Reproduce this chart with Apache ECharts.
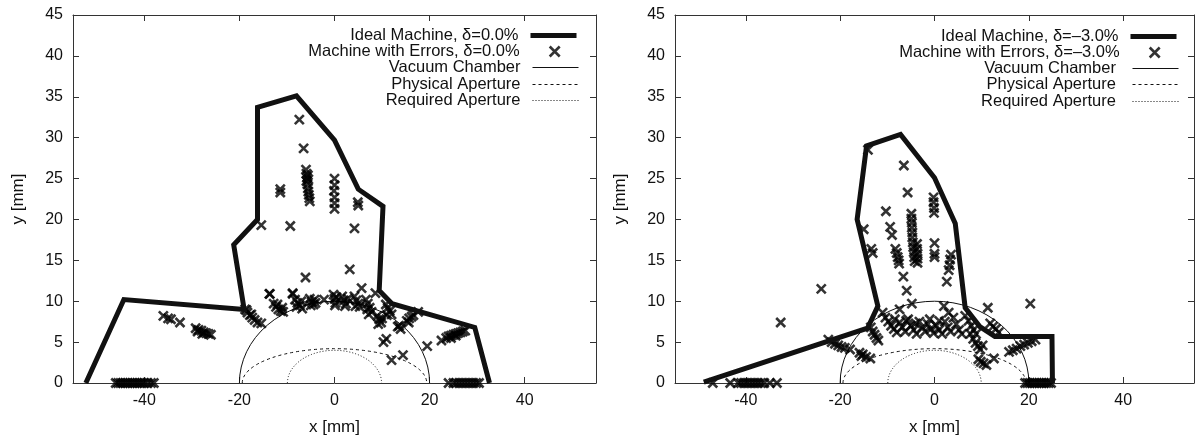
<!DOCTYPE html>
<html><head><meta charset="utf-8">
<script src="https://cdn.jsdelivr.net/npm/echarts@6/dist/echarts.min.js"></script>
<style>html,body{margin:0;padding:0;background:#fff}#c{width:1197px;height:441px}</style>
</head><body><div id="c"></div>
<script>
const xTicks = [-40, -20, 0, 20, 40];
const yRange = [0, 45];
const xRange = [-55, 55];

const leftIdeal = [[-52.3,0],[-44.3,10.2],[-19.0,9.0],[-21.2,16.9],[-16.2,20.0],[-16.2,33.7],[-8.0,35.1],[0,29.7],[5.0,23.7],[10.2,21.6],[9.4,11.3],[12.1,9.7],[29.5,6.8],[32.6,0]];
const rightIdeal = [[-48.9,0.1],[-14.2,6.7],[-12.0,9.4],[-16.4,20.0],[-14.4,29.0],[-7.2,30.4],[0,25.1],[4.4,19.5],[6.5,9.2],[9.6,6.9],[12.8,5.7],[24.9,5.7],[25.0,0]];

const leftErrors = [
[-46,0],[-45.5,0],[-45,0],[-44.5,0],[-44,0],[-43.5,0],[-43,0],[-42.5,0],[-42,0],[-41.5,0],[-41,0],[-40.5,0],[-40,0],[-39.3,0],[-38.6,0],[-38,0],
[24,0],[25,0],[25.6,0],[26.2,0],[26.8,0],[27.4,0],[28,0],[28.6,0],[29.2,0],[29.8,0],[30.4,0],
[-36,8.2],[-35,7.9],[-34.4,7.8],[-32.5,7.4],[-29.2,6.7],[-28.6,6.5],[-28,6.4],[-27.5,6.2],[-27,6.1],[-26.5,6.0],[-26,5.9],[-28.8,6.3],[-27.8,6.0],
[-18.8,9.0],[-18.3,8.6],[-17.8,8.3],[-17.3,8.0],[-16.8,7.7],[-16.2,7.4],[-15.4,7.3],[-18.5,8.9],[-17.5,8.4],
[-13.6,10.9],[-12.8,9.7],[-12.3,9.3],[-11.8,9.0],[-11.3,8.8],[-10.8,8.7],[-12.0,9.6],[-11.0,9.2],
[-8.8,10.9],[-8.3,10.2],[-7.8,9.8],[-7.3,9.5],[-6.8,9.1],[-8.0,9.3],[-7.0,10.0],
[-5.2,10.3],[-4.8,9.9],[-4.4,9.6],[-4.0,9.8],[-5.0,9.5],[-4.2,10.2],
[-2.2,10.2],
[-0.2,10.8],[0,10.3],[0.2,9.8],[0.4,10.5],[0.1,9.5],
[1.6,10.6],[2.0,10.1],[2.4,9.7],[2.8,10.3],[2.2,9.4],
[4.2,10.6],[4.6,10.1],[5.0,9.7],[5.3,9.3],[4.4,9.4],
[6.6,10.2],[7.0,9.7],[7.4,9.2],[7.8,8.7],[7.2,8.4],[6.9,9.0],
[9.0,8.2],[9.4,7.8],[9.8,7.4],[9.2,7.2],[10.0,7.9],
[10.8,9.6],[11.2,9.2],[11.6,8.8],[12.0,8.4],[11.0,8.3],
[13.3,6.9],[13.9,6.6],[13.6,7.0],
[15.2,7.6],[15.7,7.9],[16.2,8.1],[16.6,8.3],[15.6,7.4],
[17.6,8.7],
[10.3,5.0],[10.9,5.4],[12.0,2.8],[14.4,3.4],[19.5,4.5],[22.5,5.2],
[23.5,5.5],[24.0,5.7],[24.5,5.8],[25,5.9],[25.5,6.0],[26,6.1],[26.5,6.2],[27,6.3],[27.5,6.4],[24.5,5.5],[25.5,5.8],
[-7.4,32.2],[-6.5,28.7],[-6.0,26.1],[-5.9,25.6],[-5.8,25.1],[-5.9,24.7],[-5.7,24.3],[-5.6,23.8],[-5.5,23.4],[-5.4,23.0],[-5.3,22.6],[-5.2,22.2],[-5.6,25.4],[-5.5,24.9],
[-11.4,23.7],[-11.4,23.3],
[0,25.0],[0,24.2],[-0.1,23.5],[0,22.7],[0,22.0],[0,21.3],
[4.9,22.1],[5.0,21.7],
[4.2,18.9],[-15.4,19.3],[-9.3,19.2],[3.2,13.9],[-6.1,12.9],[5.7,11.6],[-13.7,10.9],[-8.8,11.0],[8.6,11.0]
];

const rightErrors = [
[-47,0],[-43.3,0],[-41.6,0],[-41,0],[-40.4,0],[-39.8,0],[-39.2,0],[-38.6,0],[-38,0],[-37.4,0],[-36.8,0],[-36.1,0],[-34.9,0],[-33.4,0],
[19.2,0],[19.7,0],[20.2,0],[20.7,0],[21.2,0],[21.7,0],[22.2,0],[22.7,0],[23.2,0],[23.7,0],[24.2,0],[24.7,0],
[-14.1,28.5],[-6.5,26.6],[-5.7,23.3],[-0.2,22.7],[-0.2,22.1],[-0.1,21.4],[-0.1,20.8],[-10.3,21.0],[-15.0,18.8],[-9.4,19.1],[-9.0,18.1],
[-4.9,20.7],[-4.9,20.1],[-4.8,19.6],[-4.8,19.0],[-4.7,18.4],[-4.7,17.8],[-4.6,17.2],[-4.5,16.6],[-4.4,16.0],[-4.3,15.4],[-4.2,14.9],
[-3.7,17.0],[-3.7,16.4],[-3.6,15.8],[-3.6,15.2],[-3.6,14.7],
[-13.4,16.4],[-13.1,15.9],
[-8.3,16.4],[-8.0,15.9],[-7.8,15.4],[-7.6,15.0],[-7.5,14.6],
[0,17.1],[0,15.8],[0,15.4],
[3.5,15.7],[3.3,15.1],[3.2,14.4],[3.0,13.8],[2.6,12.4],
[-6.6,13.0],[-5.9,11.3],[-4.8,9.7],[-24.0,11.5],[-32.6,7.4],[20.3,9.7],[11.3,9.2],[2.0,9.4],[-7.4,9.0],
[-11.0,8.6],[-10.4,8.0],[-9.8,7.5],[-9.2,7.0],[-8.6,6.6],[-8.0,6.2],[-7.4,7.4],[-6.8,6.8],[-6.2,6.3],[-5.6,7.8],[-5.0,7.0],[-4.4,6.5],[-3.8,6.0],[-3.2,7.5],[-2.6,6.8],[-2.0,6.3],[-1.4,7.2],[-0.8,6.6],[-0.2,6.1],[0.4,7.0],[1.0,6.5],[1.6,6.0],[2.2,7.5],[2.8,6.8],[3.4,6.3],[4.0,8.0],[4.6,7.2],[5.2,6.5],[5.8,6.0],[3.0,8.6],[-1.0,7.8],[-6.0,7.6],[-8.4,7.8],[1.0,7.6],[-4.0,7.3],
[6.5,8.2],[7.2,7.6],[7.8,7.0],[8.3,6.5],[8.8,6.0],[7.6,6.0],[8.2,5.4],[8.7,4.9],[9.2,4.5],[9.7,4.1],[10.2,4.6],
[11.8,7.3],[12.4,6.9],[13.0,6.6],[13.6,6.2],
[9.3,2.9],[9.8,2.6],[10.4,2.4],[11.0,2.2],[12.6,3.0],
[15.8,3.8],[16.6,4.0],[17.4,4.2],[18.2,4.5],[19.0,4.7],[19.8,4.9],[20.6,5.1],[21.4,5.3],
[-13.5,6.8],[-13.1,6.3],[-12.7,5.9],[-12.3,5.5],[-11.9,5.2],
[-22.5,5.3],[-21.8,5.0],[-21.1,4.8],[-20.4,4.6],[-19.7,4.4],[-19.0,4.3],[-17.9,4.1],
[-15.9,3.7],[-15.2,3.5],[-14.5,3.2],[-13.6,3.0],[-15.5,3.3]
];

// half-ellipses: [centerX, centerY, radiusX, radiusY]
const vacuumChamber = [[0, 0, 20, 10]];
const physicalAperture = [[0, 0, 19.4, 4.2]];
const requiredAperture = [[0, 0, 9.9, 4.0]];

const leftNames = ['Ideal Machine, δ=0.0%', 'Machine with Errors, δ=0.0%', 'Vacuum Chamber', 'Physical Aperture', 'Required Aperture'];
const rightNames = ['Ideal Machine, δ=–3.0%', 'Machine with Errors, δ=–3.0%', 'Vacuum Chamber ', 'Physical Aperture ', 'Required Aperture '];

const FONT = '"Liberation Sans", Arial, Helvetica, sans-serif';
const INK = '#111';
const XSYM = 'path://M0,0L10,10M10,0L0,10';

const grids = [
  {left: 73, top: 15, width: 523, bottom: 54},
  {left: 675, top: 15, width: 519, bottom: 53}
];

function xAxes(g) {
  return [
    {gridIndex: g, type: 'value', min: xRange[0], max: xRange[1], position: 'bottom',
     name: 'x [mm]', nameLocation: 'middle', nameGap: 36,
     nameTextStyle: {fontFamily: FONT, fontSize: 17, color: INK},
     axisLine: {show: true, onZero: false, lineStyle: {color: '#333', width: 1}},
     axisTick: {show: true, inside: true, length: 6, customValues: xTicks, lineStyle: {color: '#333'}},
     axisLabel: {show: true, customValues: xTicks, margin: 10, fontFamily: FONT, fontSize: 16, color: INK},
     splitLine: {show: false}},
    {gridIndex: g, type: 'value', min: xRange[0], max: xRange[1], position: 'top',
     axisLine: {show: true, onZero: false, lineStyle: {color: '#333', width: 1}},
     axisTick: {show: true, inside: true, length: 6, customValues: xTicks, lineStyle: {color: '#333'}},
     axisLabel: {show: false}, splitLine: {show: false}}
  ];
}
function yAxes(g) {
  return [
    {gridIndex: g, type: 'value', min: yRange[0], max: yRange[1], interval: 5, position: 'left',
     name: 'y [mm]', nameLocation: 'middle', nameGap: 46, nameRotate: 90,
     nameTextStyle: {fontFamily: FONT, fontSize: 17, color: INK},
     axisLine: {show: true, onZero: false, lineStyle: {color: '#333', width: 1}},
     axisTick: {show: true, inside: true, length: 6, lineStyle: {color: '#333'}},
     axisLabel: {show: true, margin: 10, fontFamily: FONT, fontSize: 16, color: INK},
     splitLine: {show: false}},
    {gridIndex: g, type: 'value', min: yRange[0], max: yRange[1], interval: 5, position: 'right',
     axisLine: {show: true, onZero: false, lineStyle: {color: '#333', width: 1}},
     axisTick: {show: true, inside: true, length: 6, lineStyle: {color: '#333'}},
     axisLabel: {show: false}, splitLine: {show: false}}
  ];
}

function arcRender(dash) {
  return function (params, api) {
    const cx = api.value(0), cy = api.value(1), rx = api.value(2), ry = api.value(3);
    const p0 = api.coord([cx - rx, cy]);
    const p1 = api.coord([cx + rx, cy]);
    const pt = api.coord([cx, cy + ry]);
    const RX = (p1[0] - p0[0]) / 2;
    const RY = p0[1] - pt[1];
    return {
      type: 'path',
      shape: {pathData: 'M' + p0[0] + ' ' + p0[1] + ' A' + RX + ' ' + RY + ' 0 0 1 ' + p1[0] + ' ' + p1[1]},
      style: {fill: 'none', stroke: INK, lineWidth: 1, lineDash: dash}
    };
  };
}

function seriesFor(g, names, ideal, errors) {
  const xi = g * 2, yi = g * 2;
  return [
    {type: 'line', name: names[0], xAxisIndex: xi, yAxisIndex: yi, data: ideal, symbol: 'none',
     lineStyle: {color: INK, width: 5, join: 'miter'}, itemStyle: {color: INK}, z: 5, clip: true},
    {type: 'scatter', name: names[1], xAxisIndex: xi, yAxisIndex: yi, data: errors, symbol: XSYM, symbolSize: 9,
     itemStyle: {color: 'rgba(0,0,0,0)', borderColor: '#000', borderWidth: 2.6}, z: 4},
    {type: 'line', name: names[2], xAxisIndex: xi, yAxisIndex: yi, data: [], symbol: 'none',
     lineStyle: {color: INK, width: 1, type: 'solid'}, itemStyle: {color: INK}},
    {type: 'line', name: names[3], xAxisIndex: xi, yAxisIndex: yi, data: [], symbol: 'none',
     lineStyle: {color: INK, width: 1, type: [3, 3]}, itemStyle: {color: INK}},
    {type: 'line', name: names[4], xAxisIndex: xi, yAxisIndex: yi, data: [], symbol: 'none',
     lineStyle: {color: INK, width: 1, type: [1, 2]}, itemStyle: {color: INK}},
    {type: 'custom', name: 'vc' + g, xAxisIndex: xi, yAxisIndex: yi, data: vacuumChamber, renderItem: arcRender(null), z: 2, silent: true},
    {type: 'custom', name: 'pa' + g, xAxisIndex: xi, yAxisIndex: yi, data: physicalAperture, renderItem: arcRender([3, 3]), z: 2, silent: true},
    {type: 'custom', name: 'ra' + g, xAxisIndex: xi, yAxisIndex: yi, data: requiredAperture, renderItem: arcRender([1, 2]), z: 2, silent: true}
  ];
}

function legendsFor(names, right, centers) {
  const hidden = {opacity: 0, color: 'rgba(0,0,0,0)', borderWidth: 0};
  const styles = [
    {lineStyle: {width: 5, color: INK, type: 'solid'}, itemStyle: hidden},
    {itemStyle: {color: 'rgba(0,0,0,0)', borderColor: '#000', borderWidth: 2.6}, itemWidth: 10, right: right + 18,
     textStyle: {fontFamily: FONT, fontSize: 16.5, color: INK, lineHeight: 10, padding: [0, 25, 0, 0]}},
    {lineStyle: {width: 1, color: INK, type: 'solid'}, itemStyle: hidden},
    {lineStyle: {width: 1, color: INK, type: [3, 3]}, itemStyle: hidden},
    {lineStyle: {width: 1, color: INK, type: [1, 2]}, itemStyle: hidden}
  ];
  return names.map((n, i) => Object.assign({
    data: [n], right: right, top: centers[i] - 5, orient: 'horizontal', align: 'right',
    itemWidth: 46, itemHeight: 10, padding: 0, selectedMode: false,
    textStyle: {fontFamily: FONT, fontSize: 16.5, color: INK, lineHeight: 10, padding: [0, 7, 0, 0]}
  }, styles[i]));
}

const option = {
  animation: false,
  backgroundColor: '#fff',
  grid: grids,
  xAxis: [...xAxes(0), ...xAxes(1)],
  yAxis: [...yAxes(0), ...yAxes(1)],
  legend: [...legendsFor(leftNames, 618, [32, 48, 64, 81, 97]), ...legendsFor(rightNames, 18, [33, 49, 65, 81, 98])],
  series: [...seriesFor(0, leftNames, leftIdeal, leftErrors), ...seriesFor(1, rightNames, rightIdeal, rightErrors)]
};

const chart = echarts.init(document.getElementById('c'), null, {renderer: 'canvas'});
chart.setOption(option);
</script></body></html>
